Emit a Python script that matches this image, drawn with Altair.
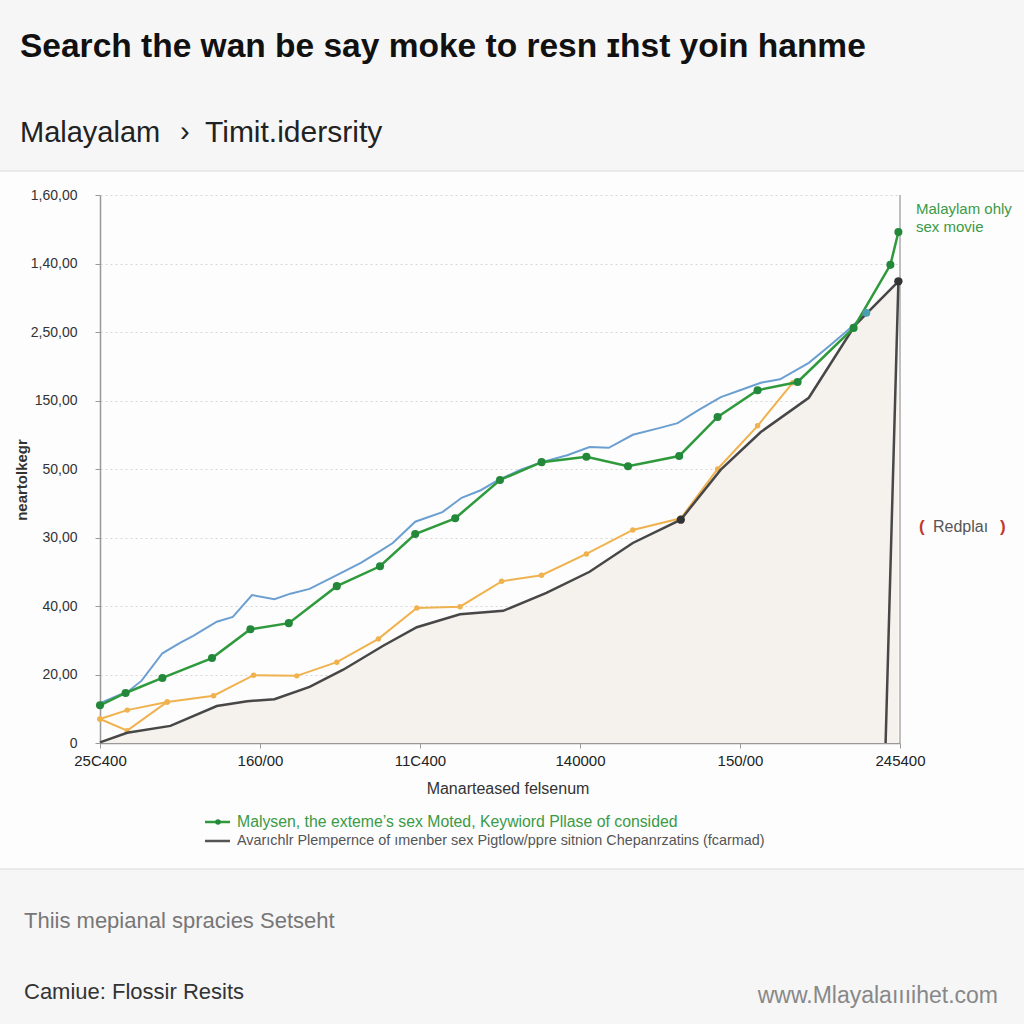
import altair as alt
import pandas as pd

# ---------------- data ----------------
y_tick_labels = ["0", "20,00", "40,00", "30,00", "50,00", "150,00", "2,50,00", "1,40,00", "1,60,00"]
x_tick_labels = ["25C400", "160/00", "11C400", "140000", "150/00", "245400"]

green_x = [0.00, 0.16, 0.39, 0.70, 0.94, 1.18, 1.48, 1.75, 1.97, 2.22, 2.50, 2.76, 3.04, 3.30, 3.62, 3.86, 4.11, 4.36, 4.71, 4.94, 4.99]
green_y = [0.55, 0.73, 0.95, 1.24, 1.66, 1.75, 2.29, 2.58, 3.05, 3.28, 3.84, 4.10, 4.18, 4.04, 4.19, 4.76, 5.15, 5.27, 6.06, 6.98, 7.46]

blue_x = [0.00, 0.18, 0.26, 0.39, 0.50, 0.58, 0.73, 0.83, 0.95, 1.09, 1.19, 1.31, 1.48, 1.63, 1.75, 1.83, 1.97, 2.14, 2.26, 2.38, 2.49, 2.63, 2.76, 2.92, 3.06, 3.18, 3.33, 3.50, 3.61, 3.74, 3.88, 4.00, 4.13, 4.25, 4.43, 4.56, 4.69, 4.79]
blue_y = [0.58, 0.76, 0.91, 1.31, 1.46, 1.56, 1.77, 1.84, 2.16, 2.10, 2.18, 2.25, 2.45, 2.63, 2.80, 2.92, 3.23, 3.37, 3.58, 3.69, 3.84, 3.99, 4.10, 4.20, 4.32, 4.31, 4.50, 4.60, 4.67, 4.86, 5.05, 5.15, 5.26, 5.31, 5.55, 5.80, 6.06, 6.28]

orange_x = [0.00, 0.17, 0.42, 0.71, 0.96, 1.23, 1.48, 1.74, 1.98, 2.25, 2.51, 2.76, 3.04, 3.33, 3.63, 3.86, 4.11, 4.33]
orange_y = [0.35, 0.48, 0.60, 0.69, 0.99, 0.98, 1.18, 1.52, 1.97, 1.99, 2.36, 2.45, 2.76, 3.11, 3.28, 4.00, 4.63, 5.26]
orange_branch_x = [0.00, 0.17, 0.42]
orange_branch_y = [0.35, 0.18, 0.60]

black_x = [0.00, 0.17, 0.44, 0.73, 0.92, 1.09, 1.31, 1.52, 1.77, 1.98, 2.25, 2.52, 2.79, 3.06, 3.33, 3.63, 3.88, 4.13, 4.43, 4.72, 4.99, 4.91]
black_y = [0.01, 0.15, 0.25, 0.54, 0.61, 0.64, 0.82, 1.07, 1.42, 1.69, 1.88, 1.93, 2.19, 2.50, 2.92, 3.26, 3.99, 4.54, 5.04, 6.10, 6.74, 0.00]
black_marker_x = [3.63, 4.99]
black_marker_y = [3.26, 6.74]
blue_marker_x = [4.79]
blue_marker_y = [6.28]

title_text = "Search the wan be say moke to resn \u026ahst yoin hanme"
subtitle_parts = ["Malayalam", "\u203a", "Timit.idersrity"]
y_title = "neartolkegr"
x_title = "Manarteased felsenum"
legend_green = "Malysen, the exteme\u2019s sex Moted, Keywiord Pllase of consided"
legend_gray = "Avar\u0131chlr Plempernce of \u0131menber sex Pigtlow/ppre sitnion Chepanrzatins (fcarmad)"
note_green = ["Malaylam ohly", "sex movie"]
note_red = "Redpla\u0131"
footer1 = "Thiis mepianal spracies Setseht"
footer2 = "Camiue: Flossir Resits"
footer_url = "www.Mlayala\u0131\u0131\u0131ihet.com"

# ---------------- frames ----------------
green_df = pd.DataFrame({"x": green_x, "y": green_y, "o": range(len(green_x))})
blue_df = pd.DataFrame({"x": blue_x, "y": blue_y, "o": range(len(blue_x))})
orange_df = pd.DataFrame({"x": orange_x, "y": orange_y, "o": range(len(orange_x))})
orange_b_df = pd.DataFrame({"x": orange_branch_x, "y": orange_branch_y, "o": range(len(orange_branch_x))})
black_df = pd.DataFrame({"x": black_x, "y": black_y, "o": range(len(black_x))})
area_df = black_df.iloc[:-1]
black_m_df = pd.DataFrame({"x": black_marker_x, "y": black_marker_y})
blue_m_df = pd.DataFrame({"x": blue_marker_x, "y": blue_marker_y})
anchor = pd.DataFrame({"k": [0]})

W, H = 800, 548
GREEN = "#2f9a3c"
GREEN_DARK = "#23883a"
BLUE = "#6b9fd1"
ORANGE = "#f0b24e"
BLACK = "#474747"

y_expr = "[" + ",".join("'%s'" % s for s in y_tick_labels) + "][datum.value]"
x_expr = "[" + ",".join("'%s'" % s for s in x_tick_labels) + "][datum.value]"

xs = alt.Scale(domain=[0, 5], nice=False, zero=False)
ys = alt.Scale(domain=[0, 8], nice=False)

X = alt.X("x:Q", scale=xs, axis=alt.Axis(
    values=list(range(6)), labelExpr=x_expr, title=None, grid=False, labelFlush=False,
    labelOverlap=False,
    labelFont="Liberation Sans", labelFontSize=15, labelColor="#222", labelPadding=5,
    tickSize=5, tickColor="#999", domainColor="#999", domainWidth=1.5))
Y = alt.Y("y:Q", scale=ys, axis=alt.Axis(
    values=list(range(9)), labelExpr=y_expr, title=None, grid=True, labelFlush=False,
    labelOverlap=False,
    gridColor="#d6d6d6", gridDash=[2, 3], gridWidth=1,
    labelFont="Liberation Sans", labelFontSize=14, labelColor="#333", labelPadding=18,
    tickSize=5, tickColor="#999", domainColor="#999", domainWidth=1.5))


def txt(text, x, y, size, color, weight="normal", align="left", angle=0, font="Liberation Sans"):
    kw = dict(text=text, align=align, baseline="middle", fontSize=size, color=color,
              fontWeight=weight, font=font)
    if angle:
        kw["angle"] = angle
    return alt.Chart(anchor).mark_text(**kw).encode(x=alt.value(x), y=alt.value(y))


def hline(x1, x2, y, color, width=1):
    return alt.Chart(anchor).mark_rule(color=color, strokeWidth=width).encode(
        x=alt.value(x1), x2=alt.value(x2), y=alt.value(y))


# header and footer bands (the chart card itself is the background)
head = alt.Chart(anchor).mark_rect(color="#f6f6f6").encode(
    x=alt.value(-100), x2=alt.value(924), y=alt.value(-195), y2=alt.value(-24))
foot = alt.Chart(anchor).mark_rect(color="#f6f6f6").encode(
    x=alt.value(-100), x2=alt.value(924), y=alt.value(674), y2=alt.value(829))
sep1 = hline(-100, 924, -24, "#e4e4e4", 1.5)
sep2 = hline(-100, 924, 674, "#e4e4e4", 1.5)

area = alt.Chart(area_df).mark_area(color="#f4f0ec", opacity=0.95).encode(x=X, y=Y)

right_border = alt.Chart(anchor).mark_rule(color="#aaaaaa", strokeWidth=1.5).encode(
    x=alt.value(W), y=alt.value(0), y2=alt.value(H))

blue_line = alt.Chart(blue_df).mark_line(color=BLUE, strokeWidth=2).encode(x=X, y=Y, order="o:O")
blue_pt = alt.Chart(blue_m_df).mark_point(filled=True, color="#4a9fb0", size=60, opacity=1).encode(x=X, y=Y)
orange_line = alt.Chart(orange_df).mark_line(color=ORANGE, strokeWidth=2).encode(x=X, y=Y, order="o:O")
orange_line_b = alt.Chart(orange_b_df).mark_line(color=ORANGE, strokeWidth=2).encode(x=X, y=Y, order="o:O")
orange_pts = alt.Chart(pd.concat([orange_df, orange_b_df])).mark_point(
    filled=True, color=ORANGE, size=30, opacity=1).encode(x=X, y=Y)
black_line = alt.Chart(black_df).mark_line(color=BLACK, strokeWidth=2.5).encode(x=X, y=Y, order="o:O")
black_pts = alt.Chart(black_m_df).mark_point(filled=True, color="#333", size=70, opacity=1).encode(x=X, y=Y)
green_line = alt.Chart(green_df).mark_line(color=GREEN, strokeWidth=2.5).encode(x=X, y=Y, order="o:O")
green_pts = alt.Chart(green_df).mark_point(filled=True, color=GREEN_DARK, size=65, opacity=1).encode(x=X, y=Y)

# texts
title = txt(title_text, -80, -148, 33.5, "#111", weight="bold")
sub1 = txt(subtitle_parts[0], -80, -62, 29, "#222")
sub2 = txt(subtitle_parts[1], 80, -63, 29, "#222")
sub3 = txt(subtitle_parts[2], 105, -62, 30, "#222")
ytitle = txt(y_title, -78, 285, 15, "#333", weight="bold", align="center", angle=270)
xtitle = txt(x_title, 408, 594, 16, "#333", align="center")

leg1_line = hline(105, 130, 627, GREEN, 2.5)
leg1_dot = alt.Chart(anchor).mark_point(filled=True, color=GREEN_DARK, size=30, opacity=1).encode(
    x=alt.value(118), y=alt.value(627))
leg1_txt = txt(legend_green, 137, 627, 15.8, "#3a9a46")
leg2_line = hline(105, 130, 646, "#555555", 2.5)
leg2_txt = txt(legend_gray, 137, 646, 14.4, "#555")

note1 = txt(note_green[0], 816, 14, 15, "#3a9a46")
note2 = txt(note_green[1], 816, 32, 15, "#3a9a46")
paren_l = txt("(", 819, 332, 17, "#c0392b", weight="bold")
paren_t = txt(note_red, 833, 332, 16, "#555")
paren_r = txt(")", 900, 332, 17, "#c0392b", weight="bold")

f1 = txt(footer1, -76, 726, 22, "#777")
f2 = txt(footer2, -76, 797, 22, "#333")
f3 = txt(footer_url, 898, 801, 23, "#888", align="right")

chart = alt.layer(
    head, foot, sep1, sep2, area, right_border,
    blue_line, orange_line, orange_line_b, orange_pts, black_line, green_line, green_pts,
    blue_pt, black_pts,
    title, sub1, sub2, sub3, ytitle, xtitle,
    leg1_line, leg1_dot, leg1_txt, leg2_line, leg2_txt,
    note1, note2, paren_l, paren_t, paren_r, f1, f2, f3,
).properties(
    width=W, height=H,
    autosize=alt.AutoSizeParams(type="none"),
    padding={"left": 100, "top": 195, "right": 124, "bottom": 281},
    background="#fdfdfd",
).configure_view(stroke=None)

chart.save("out.html", embed_options={"renderer": "svg", "actions": False})
